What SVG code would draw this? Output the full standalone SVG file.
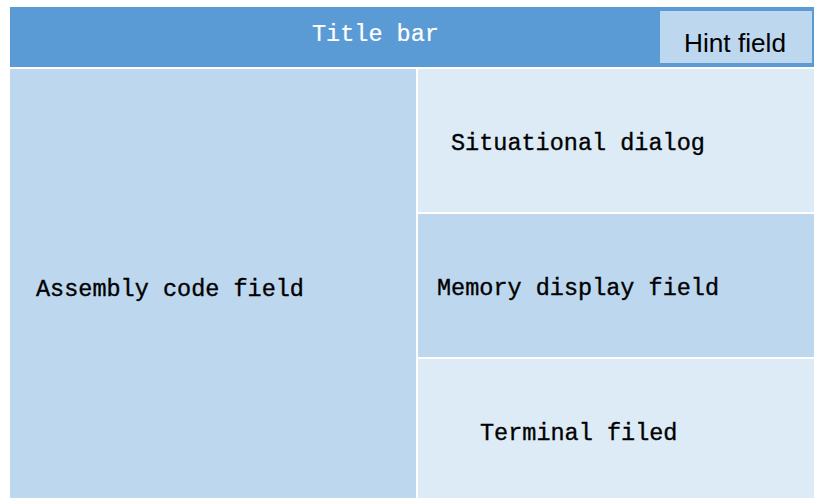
<svg xmlns="http://www.w3.org/2000/svg" width="814" height="498" viewBox="0 0 814 498">
  <style>
    .mid { fill: #5B9BD5; }
    .pale { fill: #BDD7EE; }
    .light { fill: #DDEBF7; }
    .mono { font-family: "Liberation Mono", "DejaVu Sans Mono", monospace; font-size: 23.5px; fill: #000; stroke: #000; stroke-width: 0.35px; }
    .mono.inv { fill: #FFFFFF; stroke: #FFFFFF; stroke-width: 0.2px; }
    .sans { font-family: "Liberation Sans", Arial, sans-serif; font-size: 25px; fill: #000; }
  </style>
  <rect width="814" height="498" fill="#FFFFFF"/>
  <g id="title-bar">
    <rect class="mid" x="10" y="7" width="804" height="60"/>
    <text class="mono inv" x="312" y="41">Title bar</text>
  </g>
  <g id="hint-field">
    <rect class="pale" x="660" y="11" width="152" height="52"/>
    <text class="sans" x="684" y="52" textLength="102" lengthAdjust="spacingAndGlyphs">Hint field</text>
  </g>
  <g id="assembly-code-field">
    <rect class="pale" x="10" y="69" width="406" height="429"/>
    <text class="mono" x="36" y="296">Assembly code field</text>
  </g>
  <g id="situational-dialog">
    <rect class="light" x="418" y="69" width="396" height="143"/>
    <text class="mono" x="451" y="150">Situational dialog</text>
  </g>
  <g id="memory-display-field">
    <rect class="pale" x="418" y="214" width="396" height="143"/>
    <text class="mono" x="437" y="295">Memory display field</text>
  </g>
  <g id="terminal-field">
    <rect class="light" x="418" y="359" width="396" height="139"/>
    <text class="mono" x="480" y="440">Terminal filed</text>
  </g>
  <g id="connectors"/>
</svg>
